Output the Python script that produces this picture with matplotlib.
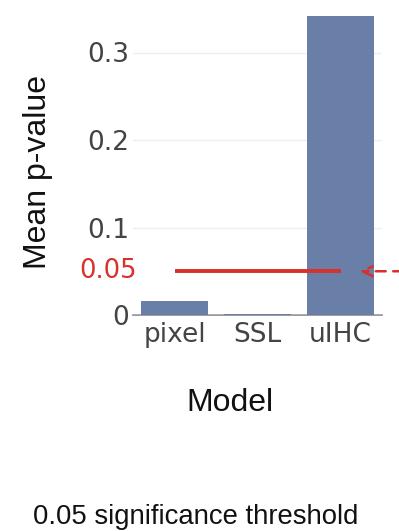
import matplotlib
matplotlib.use("Agg")
import matplotlib.pyplot as plt

models = ["pixel", "SSL", "uIHC"]
mean_p = [0.016, 0.0012, 0.342]
threshold = 0.05
y_ticks = [0, 0.1, 0.2, 0.3]
y_tick_labels = ["0", "0.1", "0.2", "0.3"]

W, H = 399, 531
fig = plt.figure(figsize=(W / 100, H / 100), dpi=100)
ax = fig.add_axes([133 / W, 1 - 315 / H, (382 - 133) / W, (315 - 14) / H])

bar_color = "#6a7fa8"
red = "#d8302a"
xs = list(range(len(models)))
ax.bar(xs, mean_p, width=0.8, color=bar_color, zorder=2)
ax.set_xlim(-0.5, 2.5)
ax.set_ylim(0, 0.344)

for s in ["top", "right", "left"]:
    ax.spines[s].set_visible(False)
ax.spines["bottom"].set_color("#8a8a8a")
ax.spines["bottom"].set_linewidth(1.2)
ax.spines["bottom"].set_zorder(1.5)

ax.set_yticks(y_ticks)
ax.set_yticklabels(y_tick_labels)
ax.yaxis.grid(True, color="#eeeeee", linewidth=1, zorder=0)
ax.tick_params(axis="y", length=0, pad=3, labelsize=19, labelcolor="#444444")
ax.tick_params(axis="x", length=0, pad=5, labelsize=19, labelcolor="#444444")
ax.set_xticks(xs)
ax.set_xticklabels(models)
for lbl in ax.get_xticklabels() + ax.get_yticklabels():
    lbl.set_family("DejaVu Sans")

# red threshold label on y axis
ax.text(137 / W, 1 - 271 / H, "0.05", color=red, fontsize=18.5,
        family="DejaVu Sans", ha="right", va="center",
        transform=fig.transFigure, clip_on=False)

# threshold line
ax.plot([0, 2], [threshold, threshold], color=red, linewidth=2.8, zorder=4,
        solid_capstyle="butt")

# dashed arrow from outside
ax.annotate("", xy=(2.2, threshold), xytext=(3.0, threshold),
            xycoords="data", textcoords="data", annotation_clip=False,
            arrowprops=dict(arrowstyle="->", color=red, linestyle=(0, (4, 3)),
                            linewidth=1.8, mutation_scale=18))

fig.text(38 / W, 1 - 172 / H, "Mean p-value", fontsize=23, rotation=90,
         family="Liberation Sans", color="#111111", ha="center", va="center")
fig.text(230 / W, 1 - 403 / H, "Model", fontsize=23,
         family="Liberation Sans", color="#111111", ha="center", va="center")

fig.text(33 / W, 1 - 517 / H, "0.05 significance threshold", fontsize=19.8,
         family="Liberation Sans", color="#111111", ha="left", va="center")

fig.savefig("out.png", dpi=100)
